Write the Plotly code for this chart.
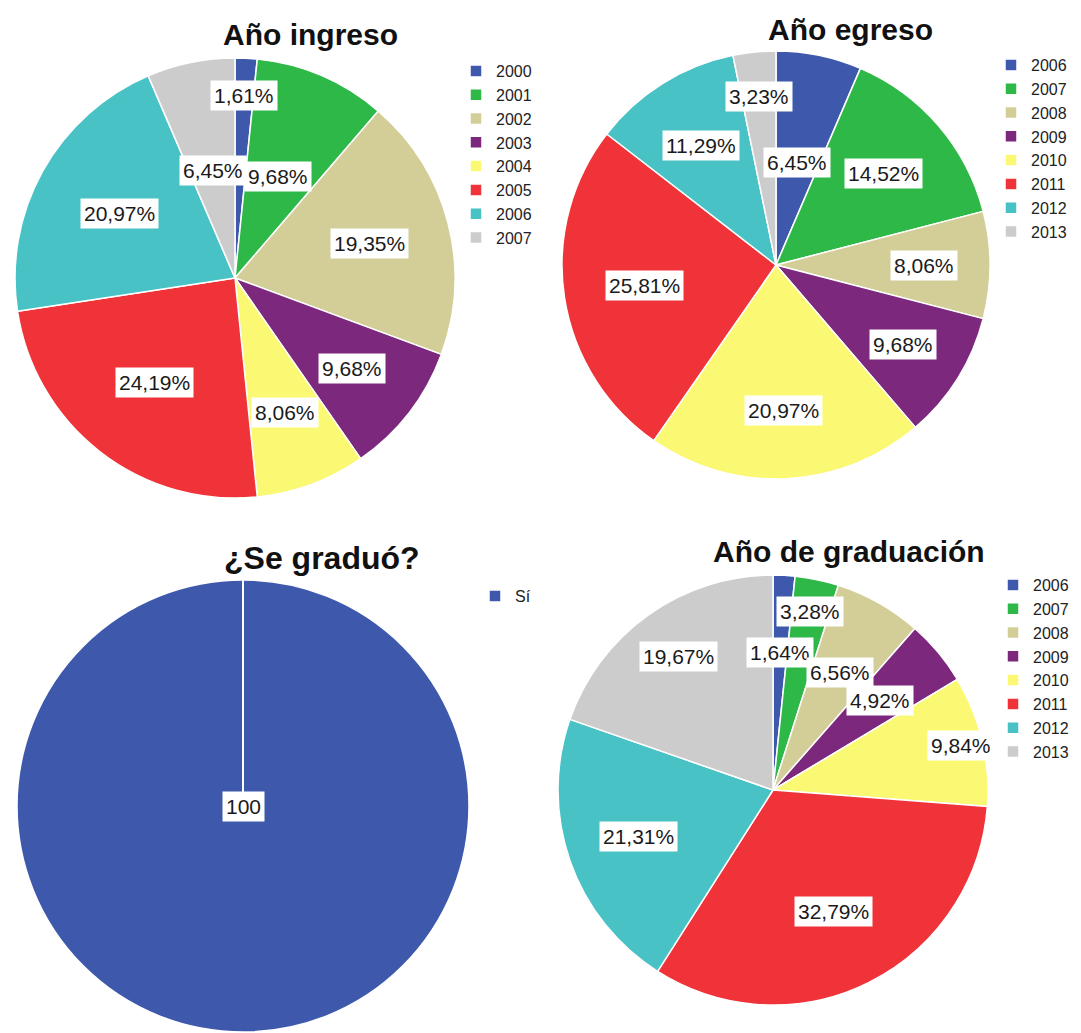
import math
import plotly.graph_objects as go

# the page body has an 8px margin: work in screen pixels and shift by OFF
OFF = 8
SW, SH = 1081, 1033
W, H = SW - OFF, SH - OFF

# ---------------- data ----------------
ingreso_labels = ["2000", "2001", "2002", "2003", "2004", "2005", "2006", "2007"]
ingreso_values = [1, 6, 12, 6, 5, 15, 13, 4]

egreso_labels = ["2006", "2007", "2008", "2009", "2010", "2011", "2012", "2013"]
egreso_values = [4, 9, 5, 6, 13, 16, 7, 2]

graduo_labels = ["Sí"]
graduo_values = [100]

graduacion_labels = ["2006", "2007", "2008", "2009", "2010", "2011", "2012", "2013"]
graduacion_values = [1, 2, 4, 3, 6, 20, 13, 12]

titles = ["Año ingreso", "Año egreso", "¿Se graduó?", "Año de graduación"]

# ---------------- style ----------------
colors = ["#3E58AC", "#2EB848", "#D3CE97", "#7C287D",
          "#FBF873", "#EF3338", "#48C2C5", "#CCCCCC"]
FONT = "Liberation Sans, Arial, sans-serif"

# pie geometry in screen pixels: center x, center y, radius
geom = [(235, 278, 220), (776, 265, 214), (243, 806, 226), (773, 790, 215)]
# radial position of the value labels (fraction of radius), per slice
label_r = [
    [0.83, 0.5, 0.63, 0.67, 0.65, 0.6, 0.6, 0.5],
    [0.49, 0.66, 0.69, 0.7, 0.68, 0.62, 0.66, 0.79],
    [0.0],
    [0.64, 0.85, 0.63, 0.65, 0.9, 0.63, 0.66, 0.76],
]
title_pos = [(310, 34), (850, 29), (322, 558), (849, 551)]
title_size = [30, 30, 32, 30]
# legend box top-left, screen pixels
legend_pos = [(456, 54), (991, 48), (475, 579), (993, 568)]

datasets = [
    (ingreso_labels, ingreso_values, True),
    (egreso_labels, egreso_values, True),
    (graduo_labels, graduo_values, False),
    (graduacion_labels, graduacion_values, True),
]


def fx(px):
    return (px - OFF) / W


def fy(py):
    return 1 - (py - OFF) / H


fig = go.Figure()
annotations = []
shapes = []
legend_names = ["legend", "legend2", "legend3", "legend4"]

for i, ((labels, values, pct), (cx, cy, R)) in enumerate(zip(datasets, geom)):
    # invisible suffix keeps each pie's legend entries separate
    uniq = [lab + "\u200b" * i for lab in labels]
    fig.add_trace(go.Pie(
        labels=uniq, values=values, sort=False, direction="clockwise",
        rotation=0, textinfo="none", hoverinfo="label+value+percent",
        marker=dict(colors=colors[:len(labels)], line=dict(color="white", width=1.5)),
        domain=dict(x=[max(0, fx(cx - R)), min(1, fx(cx + R))],
                    y=[max(0, fy(cy + R)), min(1, fy(cy - R))]),
        legend=legend_names[i], showlegend=True,
    ))
    total = sum(values)
    cum = 0
    for j, v in enumerate(values):
        mid = (cum + v / 2) / total * 2 * math.pi
        cum += v
        if pct:
            txt = f"{v / total * 100:.2f}".replace(".", ",") + "%"
        else:
            txt = f"{v}"
        f = label_r[i][j]
        px = cx + f * R * math.sin(mid)
        py = cy - f * R * math.cos(mid)
        annotations.append(dict(
            x=fx(px), y=fy(py), xref="paper", yref="paper",
            xanchor="center", yanchor="middle",
            text=txt, showarrow=False, bgcolor="white", borderpad=3,
            font=dict(family=FONT, size=21, color="#1a1a1a"),
        ))
    if len(values) == 1:
        shapes.append(dict(type="line", xref="paper", yref="paper",
                           x0=fx(cx), y0=fy(cy), x1=fx(cx), y1=fy(cy - R),
                           line=dict(color="white", width=2), layer="above"))
    tx, ty = title_pos[i]
    annotations.append(dict(
        x=fx(tx), y=fy(ty), xref="paper", yref="paper", text=f"<b>{titles[i]}</b>",
        showarrow=False, font=dict(family=FONT, size=title_size[i], color="#111111"),
        xanchor="center", yanchor="middle",
    ))

legends = {}
for i, name in enumerate(legend_names):
    lx, ly = legend_pos[i]
    legends[name] = dict(x=fx(lx), y=fy(ly), xanchor="left", yanchor="top",
                         font=dict(family=FONT, size=16, color="#222222"),
                         bgcolor="rgba(0,0,0,0)", itemclick=False)

fig.update_layout(
    width=W, height=H, margin=dict(l=0, r=0, t=0, b=0),
    paper_bgcolor="white", plot_bgcolor="white",
    annotations=annotations, shapes=shapes, **legends,
)

fig.write_html("out.html")
